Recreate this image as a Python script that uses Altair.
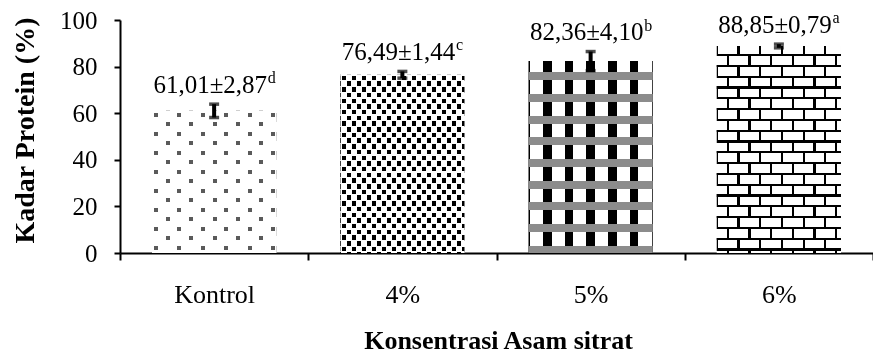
import math
import altair as alt
import pandas as pd

# ---- data ----
kategori = ["Kontrol", "4%", "5%", "6%"]
rerata = [61.01, 76.49, 82.36, 88.85]
sd = [2.87, 1.44, 4.10, 0.79]
notasi = ["d", "c", "b", "a"]
y_ticks = [0, 20, 40, 60, 80, 100]


def fmt(v):
    return f"{v:.2f}".replace(".", ",")


df = pd.DataFrame({
    "kategori": kategori,
    "rerata": rerata,
    "sd": sd,
    "notasi": notasi,
})
df["lo"] = df["rerata"] - df["sd"]
df["hi"] = df["rerata"] + df["sd"]
df["label"] = [fmt(m) + "±" + fmt(s) for m, s in zip(rerata, sd)]

# ---- geometry of the plot area (for texture fills only) ----
W, H = 753, 233
BAND_FRAC = 0.66
step = W / len(kategori)
BW = step * BAND_FRAC
PPU = H / 100.0
T = "rgba(255,255,255,0)"


def stripe_stops(L, period, on, phase, c_on, c_off):
    segs = []
    k = math.floor(-phase / period) - 1
    while True:
        s = phase + k * period
        if s >= L:
            break
        e = s + on
        if e > 0:
            segs.append((max(s, 0.0), min(e, L)))
        k += 1
    stops = []
    cur = 0.0

    def add(p, c):
        stops.append(alt.GradientStop(offset=round(p / L, 5), color=c))

    for s, e in segs:
        if s > cur:
            add(cur, c_off)
            add(s, c_off)
        add(s, c_on)
        add(e, c_on)
        cur = e
    if cur < L:
        add(cur, c_off)
        add(L, c_off)
    return stops


def grad_x(stops):
    return alt.Gradient(gradient="linear", x1=0, y1=0, x2=1, y2=0, stops=stops)


def grad_y(stops):
    return alt.Gradient(gradient="linear", x1=0, y1=0, x2=0, y2=1, stops=stops)


def staggered(w, h, P, sw, Q, sh, cph, rph, color):
    """Staggered rows of small squares (built with blend modes)."""
    lay = [
        (grad_x(stripe_stops(w, P, sw, cph + P / 2, "black", "white")), None),
        (grad_y(stripe_stops(h, 2 * Q, Q, rph, "white", "black")), "difference"),
        (grad_x(stripe_stops(w, P / 2, sw, cph, "black", "white")), "lighten"),
        (grad_y(stripe_stops(h, Q, sh, rph, "black", "white")), "lighten"),
    ]
    if color != "black":
        lay.append((color, "lighten"))
    return lay


def bricks(w, h, P, Q, lw, cph, rph):
    return [
        (grad_x(stripe_stops(w, P, lw, cph + P / 2, "black", "white")), None),
        (grad_y(stripe_stops(h, 2 * Q, Q, rph, "white", "black")), "difference"),
        (grad_x(stripe_stops(w, P / 2, lw, cph, "black", "white")), "lighten"),
        (grad_y(stripe_stops(h, Q, lw, rph, "black", T)), None),
    ]


fills = {}
h0 = rerata[0] * PPU
fills[kategori[0]] = staggered(BW, h0, 23.4, 4.0, 9.5, 4.0, 2.0, 2.0, "#5a5a5a")
h1 = rerata[1] * PPU
fills[kategori[1]] = staggered(BW, h1, 10.0, 4.5, 5.7, 4.5, 1.5, 1.0, "black")
h2 = rerata[2] * PPU
fills[kategori[2]] = [
    (grad_x(stripe_stops(BW, 21.7, 8.5, 14.5, "black", "white")), None),
    (grad_y(stripe_stops(h2, 21.7, 8.0, 11.0, "#8c8c8c", T)), None),
]
h3 = rerata[3] * PPU
fills[kategori[3]] = bricks(BW, h3, 21.7, 10.8, 2.2, -1.0, -2.8)

FONT = "Liberation Serif"

x_enc = alt.X(
    "kategori:N",
    sort=kategori,
    scale=alt.Scale(paddingInner=0, paddingOuter=0),
    title="Konsentrasi Asam sitrat",
    axis=alt.Axis(
        labelAngle=0,
        tickBand="extent",
        tickSize=7,
        tickWidth=2,
        tickColor="black",
        domainColor="black",
        domainWidth=2,
        labelPadding=42,
        labelBaseline="alphabetic",
        labelFontSize=26,
        labelColor="black",
        labelFont=FONT,
        titleFont=FONT,
        titleFontSize=26,
        titleFontWeight="bold",
        titleColor="black",
        titleX=378,
        titleY=95,
        titleBaseline="alphabetic",
        grid=False,
    ),
)

y_axis = alt.Axis(
    values=y_ticks,
    tickSize=6,
    tickWidth=2,
    tickColor="black",
    domainColor="black",
    domainWidth=2,
    labelPadding=17,
    labelFontSize=25,
    labelColor="black",
    labelFont=FONT,
    titleFont=FONT,
    titleFontSize=28,
    titleFontWeight="bold",
    titleColor="black",
    titleAngle=270,
    titleX=-87,
    titleY=110,
    titleBaseline="alphabetic",
    titleAlign="center",
    grid=False,
)
YTITLE = "Kadar Protein (%)"
y_scale = alt.Scale(domain=[0, 100], nice=False)


def yenc(field):
    return alt.Y(field, scale=y_scale, axis=y_axis, title=YTITLE)


base = alt.Chart(df)
layers = []
for kat in kategori:
    for g, bl in fills[kat]:
        kw = {"fill": g, "width": alt.RelativeBandSize(band=BAND_FRAC)}
        if bl:
            kw["blend"] = bl
        layers.append(
            base.transform_filter(alt.datum.kategori == kat)
            .mark_bar(**kw)
            .encode(x=x_enc, y=yenc("rerata:Q"))
        )

err = base.mark_rule(color="black", strokeWidth=4).encode(
    x=x_enc, y=yenc("lo:Q"), y2="hi:Q"
)
cap_lo = base.mark_tick(color="black", thickness=3.5, size=10).encode(x=x_enc, y=yenc("lo:Q"))
cap_hi = base.mark_tick(color="black", thickness=3.5, size=10).encode(x=x_enc, y=yenc("hi:Q"))

txt = base.mark_text(
    font=FONT, fontSize=25, color="black", align="right", baseline="alphabetic", dx=53, dy=-11.5
).encode(x=x_enc, y=yenc("hi:Q"), text="label:N")
sup = base.mark_text(
    font=FONT, fontSize=16, color="black", align="left", baseline="alphabetic", dx=53.5, dy=-21
).encode(x=x_enc, y=yenc("hi:Q"), text="notasi:N")

chart = (
    alt.layer(*layers, err, cap_lo, cap_hi, txt, sup)
    .properties(
        width=W,
        height=H,
        padding={"left": 120, "top": 20, "right": 0, "bottom": 105},
        autosize=alt.AutoSizeParams(type="none"),
        background="white",
    )
    .configure_view(strokeWidth=0)
)

chart.save("out.html", embed_options={"renderer": "svg", "actions": False})
